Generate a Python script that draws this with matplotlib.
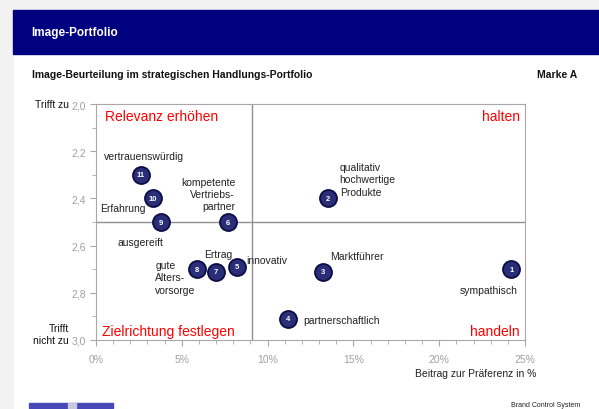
import matplotlib
matplotlib.use("Agg")
import matplotlib.pyplot as plt
from matplotlib.patches import Rectangle

plt.rcParams["font.family"] = ["Liberation Sans", "DejaVu Sans"]

# data: item number, contribution to preference (%), rating (2 = applies, 3 = does not apply)
ids = [1, 2, 3, 4, 5, 6, 7, 8, 9, 10, 11]
share = [24.2, 13.5, 13.2, 11.2, 8.2, 7.7, 7.0, 5.9, 3.8, 3.3, 2.6]
rating = [2.70, 2.40, 2.71, 2.91, 2.69, 2.50, 2.71, 2.70, 2.50, 2.40, 2.30]
labels = ["sympathisch", "qualitativ\nhochwertige\nProdukte", "Marktführer",
          "partnerschaftlich", "innovativ", "kompetente\nVertriebs-\npartner",
          "Ertrag", "gute\nAlters-\nvorsorge", "ausgereift", "Erfahrung",
          "vertrauenswürdig"]
x_ticks = [0, 5, 10, 15, 20, 25]
y_ticks = [2.0, 2.2, 2.4, 2.6, 2.8, 3.0]
x_split = 9.1
y_split = 2.5

# label placement (pixel offsets from the point, alignment)
label_pos = [(-23, -21, "center"), (12, 19, "left"), (34, 16, "center"),
             (15, -1, "left"), (10, 7, "left"), (7, 28, "right"),
             (2, 18, "center"), (-42, -8, "left"), (-21, -20, "center"),
             (-7, -10, "right"), (3, 19, "center")]

fig = plt.figure(figsize=(5.99, 4.10), dpi=100)
fig.patch.set_facecolor("white")

# page background / header
fig.add_artist(Rectangle((0, 0), 13 / 599, 1, transform=fig.transFigure,
                         color="#f2f2f2", zorder=0))
fig.add_artist(Rectangle((0, 1 - 11 / 410), 1, 11 / 410, transform=fig.transFigure,
                         color="#f2f2f2", zorder=0))
fig.add_artist(Rectangle((13 / 599, 1 - 55 / 410), 1, 44 / 410, transform=fig.transFigure,
                         color="#000080", zorder=1))
fig.text(31 / 599, 1 - 33 / 410, "Image-Portfolio", color="white", fontsize=8.5,
         fontweight="bold", va="center")
fig.text(32 / 599, 1 - 75 / 410, "Image-Beurteilung im strategischen Handlungs-Portfolio",
         fontsize=7.5, fontweight="bold", va="center", color="#111111")
fig.text(577 / 599, 1 - 75 / 410, "Marke A", fontsize=7.5, fontweight="bold",
         va="center", ha="right", color="#111111")

ax = fig.add_axes([96 / 599, 1 - 341 / 410, 429 / 599, 236 / 410])
ax.set_xlim(0, 25)
ax.set_ylim(3.0, 2.0)
for s in ax.spines.values():
    s.set_color("#a8a8a8")
ax.set_xticks(x_ticks)
ax.set_xticklabels([f"{t}%" for t in x_ticks])
ax.set_xticks(range(0, 26), minor=True)
ax.set_yticks(y_ticks)
ax.set_yticklabels([f"{t:.1f}".replace(".", ",") for t in y_ticks])
ax.set_yticks([2.1, 2.3, 2.5, 2.7, 2.9], minor=True)
ax.tick_params(which="both", colors="#a8a8a8", labelcolor="#a0a0a0", labelsize=7.5,
               direction="out")
ax.tick_params(which="major", length=4)
ax.tick_params(which="minor", length=3)
ax.tick_params(axis="x", pad=6)

ax.axvline(x_split, color="#909090", lw=1, zorder=1)
ax.axhline(y_split, color="#909090", lw=1, zorder=1)

ax.scatter(share, rating, s=150, c="#2a2d78", edgecolors="#0c0d45", linewidths=1.3,
           zorder=3)
for i, x, y in zip(ids, share, rating):
    ax.text(x, y, str(i), color="white", fontsize=5.5, fontweight="bold",
            ha="center", va="center", zorder=4)
for x, y, lab, (dx, dy, ha) in zip(share, rating, labels, label_pos):
    ax.annotate(lab, (x, y), xytext=(dx, dy), textcoords="offset pixels",
                ha=ha, va="center", multialignment=ha if ha != "center" else "left",
                fontsize=7.5, color="#222222", linespacing=1.3, zorder=4)

red = "#ff0000"
ax.text(0.022, 0.95, "Relevanz erhöhen", transform=ax.transAxes, color=red,
        fontsize=10, va="center")
ax.text(0.988, 0.95, "halten", transform=ax.transAxes, color=red,
        fontsize=10, va="center", ha="right")
ax.text(0.014, 0.04, "Zielrichtung festlegen", transform=ax.transAxes, color=red,
        fontsize=10, va="center")
ax.text(0.988, 0.04, "handeln", transform=ax.transAxes, color=red,
        fontsize=10, va="center", ha="right")

fig.text(69 / 599, 1 - 105 / 410, "Trifft zu", fontsize=7.5, ha="right",
         va="center", color="#111111")
fig.text(69 / 599, 1 - 335 / 410, "Trifft\nnicht zu", fontsize=7.5, ha="right",
         va="center", color="#111111", linespacing=1.3)
fig.text(536 / 599, 1 - 374 / 410, "Beitrag zur Präferenz in %", fontsize=7.5,
         ha="right", va="center", color="#222222")

# footer
fig.add_artist(Rectangle((29 / 599, 1 - 409 / 410), 84 / 599, 5 / 410,
                         transform=fig.transFigure, color="#4848b8", zorder=1))
fig.add_artist(Rectangle((68 / 599, 1 - 409 / 410), 8 / 599, 5 / 410,
                         transform=fig.transFigure, color="#c8c8e0", zorder=2))
fig.text(546 / 599, 1 - 406 / 410, "Brand Control System", fontsize=5,
         ha="center", va="center", color="#222222")

fig.savefig("out.png", dpi=100)
